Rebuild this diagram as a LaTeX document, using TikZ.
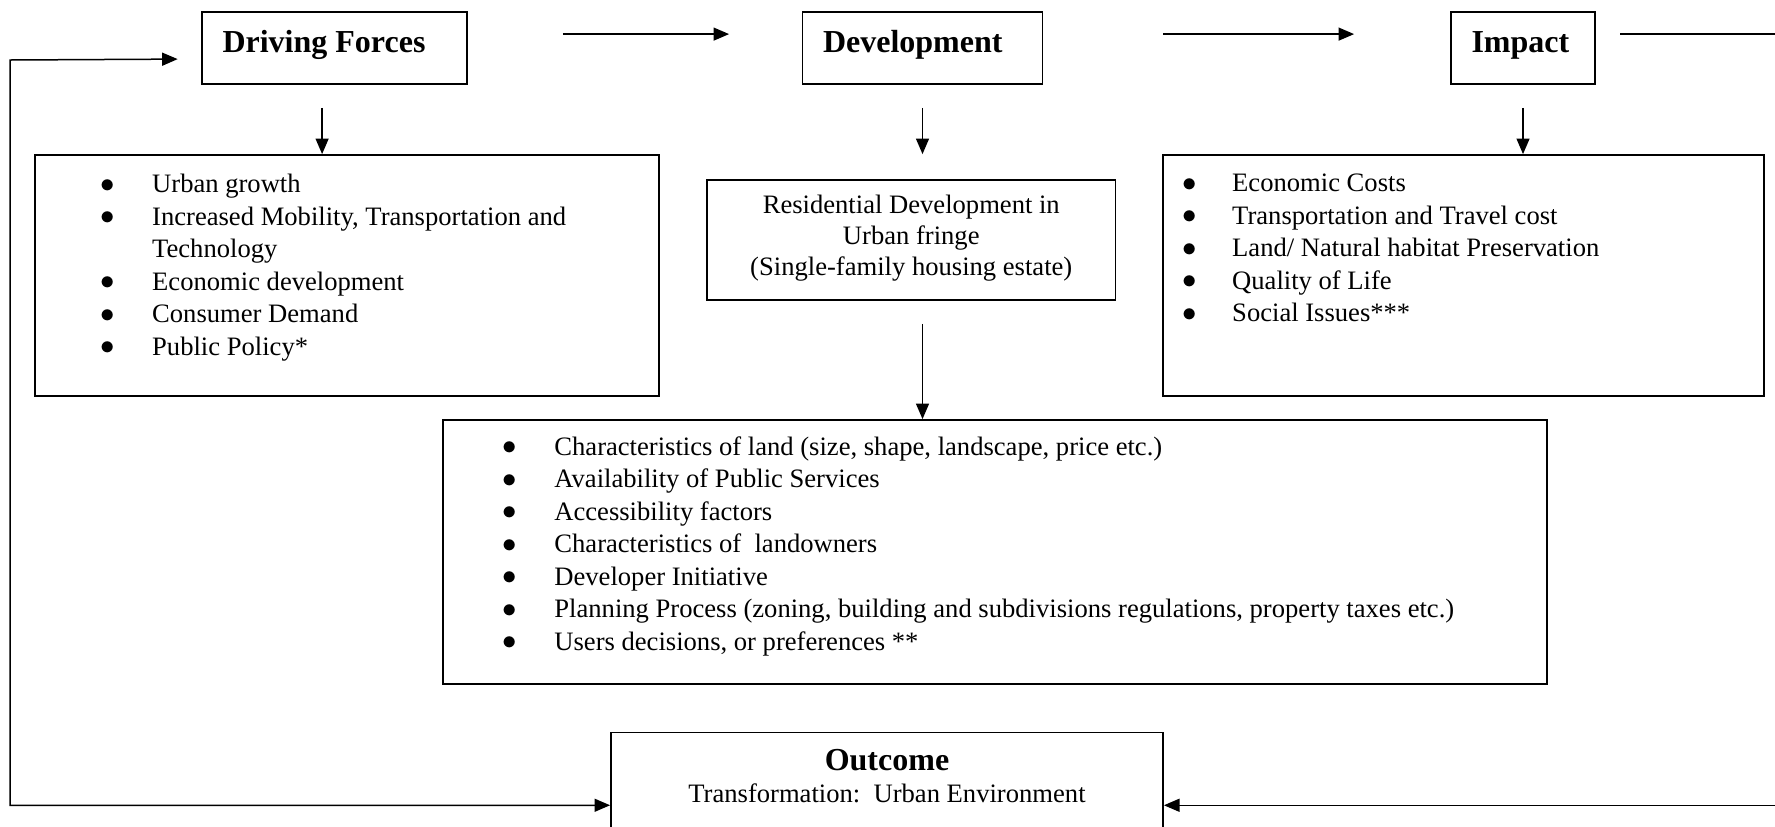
\documentclass[tikz,border=0pt]{standalone}
\usepackage{fontspec}
\setmainfont{Liberation Serif}
\usetikzlibrary{arrows.meta,calc,fit}
\newcommand{\bul}{\raisebox{0.2pt}{$\bullet$}}

\begin{document}
\begin{tikzpicture}[x=0.5pt,y=-0.5pt,
  box/.style={draw, line width=0.9pt, inner sep=0pt},
  ln/.style={line width=0.75pt},
  arr/.style={line width=0.75pt, -{Triangle[length=7.8pt,width=6.5pt]}},
  both/.style={line width=0.75pt, {Triangle[length=7.8pt,width=6.5pt]}-{Triangle[length=7.8pt,width=6.5pt]}},
  head/.style={font=\fontsize{16}{19}\selectfont\bfseries, inner sep=0pt},
  txt/.style={font=\fontsize{13.3}{16.25}\selectfont, inner sep=0pt, anchor=base west},
]
\clip (0,0) rectangle (1775,826);
\fill[white] (0,0) rectangle (1775,826);

% boxes
\node[box, fit={(202,11.7)(467,84)}] (df) {};
\node[box, fit={(802.5,11.7)(1042.5,84)}] (dev) {};
\node[box, fit={(1451,11.7)(1595,84)}] (imp) {};
\node[box, fit={(35,155)(659,396)}] (dfl) {};
\node[box, fit={(707,180)(1115.5,300)}] (res) {};
\node[box, fit={(1163,155)(1764,396)}] (impl) {};
\node[box, fit={(443,420)(1547,684)}] (fac) {};
\node[box, fit={(611,732.5)(1163,878)}] (out) {};

% headings
\node[head, anchor=base west] (dft) at ($(df.north west)+(21,41.3)$) {Driving Forces};
\node[head, anchor=base west] (devt) at ($(dev.north west)+(21,41.3)$) {Development};
\node[head, anchor=base west] (impt) at ($(imp.north west)+(21,41.3)$) {Impact};
\node[head, anchor=base] (outt) at ($(out.north)+(0,39)$) {Outcome};
\node[txt, anchor=base] (outs) at ($(out.north)+(0,71)$) {Transformation:\ \ Urban Environment};

% lists
\node[txt] (dflt) at (100.4,192.7) {\begin{tabular}[t]{@{}p{25.7pt}@{}l@{}}
\bul & Urban growth\\
\bul & Increased Mobility, Transportation and\\
 & Technology\\
\bul & Economic development\\
\bul & Consumer Demand\\
\bul & Public Policy*
\end{tabular}};

\node[txt] (implt) at (1182.2,191.7) {\begin{tabular}[t]{@{}p{24.8pt}@{}l@{}}
\bul & Economic Costs\\
\bul & Transportation and Travel cost\\
\bul & Land/ Natural habitat Preservation\\
\bul & Quality of Life\\
\bul & Social Issues***
\end{tabular}};

\node[txt] (fact) at (501.8,455) {\begin{tabular}[t]{@{}p{26.1pt}@{}l@{}}
\bul & Characteristics of land (size, shape, landscape, price etc.)\\
\bul & Availability of Public Services\\
\bul & Accessibility factors\\
\bul & Characteristics of\ \ landowners\\
\bul & Developer Initiative\\
\bul & Planning Process (zoning, building and subdivisions regulations, property taxes etc.)\\
\bul & Users decisions, or preferences **
\end{tabular}};

\node[font=\fontsize{13.3}{15.5}\selectfont, inner sep=0pt, anchor=base] (rest) at ($(res.north)+(0,34.5)$)
  {\begin{tabular}[t]{@{}c@{}}Residential Development in\\Urban fringe\\(Single-family housing estate)\end{tabular}};

% horizontal flow arrows
\draw[arr] ($(df.north east)+(95,23.3)$) -- ($(dev.north west)+(-72.5,23.3)$);
\draw[arr] ($(dev.north east)+(120,23.3)$) -- ($(imp.north west)+(-96,23.3)$);

% down arrows
\coordinate (a1) at ($(df.south west)+(121,23)$);
\draw[arr] (a1) -- (a1 |- dfl.north);
\coordinate (a2) at ($(dev.south)+(0,23)$);
\draw[arr] (a2) -- (a2 |- dfl.north);
\coordinate (a3) at ($(a2 |- res.south)+(0,23)$);
\draw[arr] (a3) -- (a3 |- fac.north);
\coordinate (a4) at ($(imp.south)+(0,23)$);
\draw[arr] (a4) -- (a4 |- impl.north);

% feedback loops
\coordinate (lc) at (10,60);
\draw[both] (out.west) -| (lc) -- ($(df.north west)+(-23.4,48.3)$);
\coordinate (rs) at ($(imp.north east)+(24.5,23.3)$);
\draw[arr] (rs) -- ++(200,0) |- (out.east);
\end{tikzpicture}
\end{document}
